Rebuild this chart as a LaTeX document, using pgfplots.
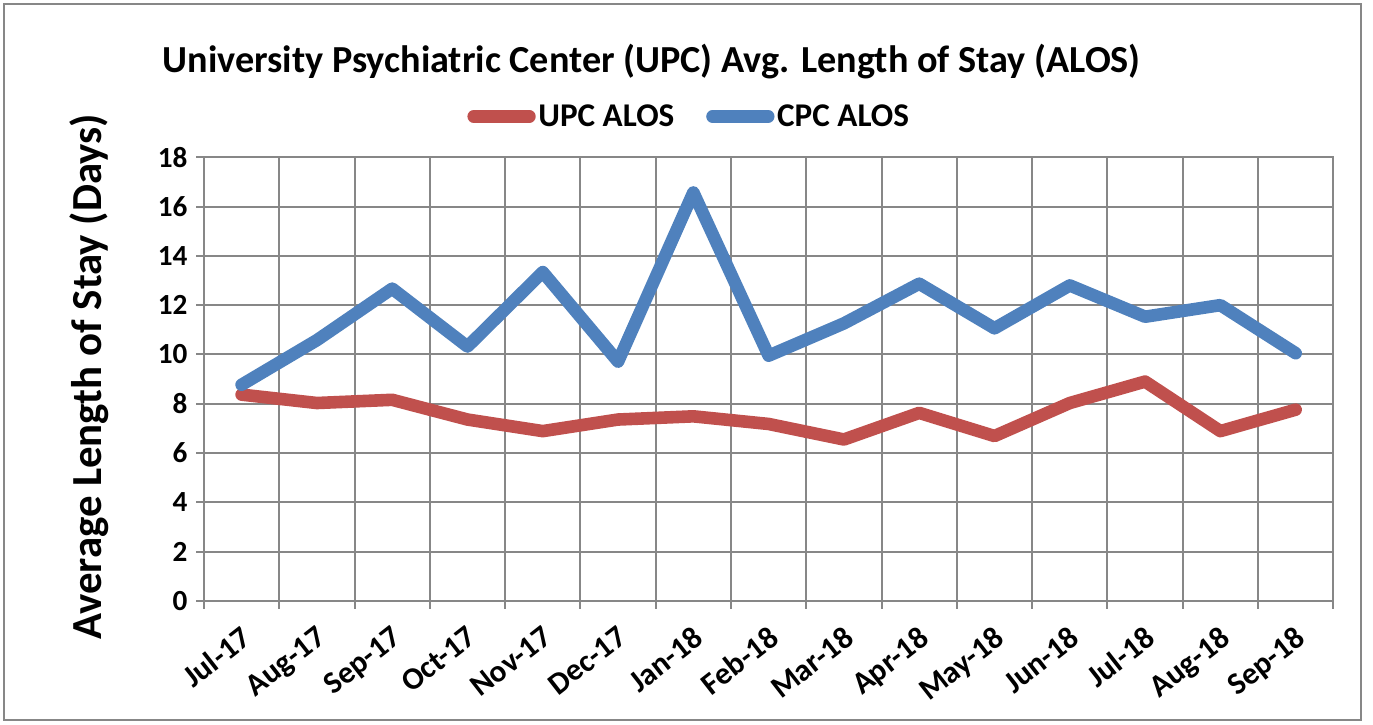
\documentclass[border=0pt]{standalone}
\usepackage{pgfplots}
\pgfplotsset{compat=1.18}
\usepackage{fontspec}
\setmainfont{Carlito}
\definecolor{upcred}{HTML}{C0504D}
\definecolor{cpcblue}{HTML}{4F81BD}
\definecolor{gridgray}{HTML}{878787}
\pgfplotstableread{
x upc cpc
0 8.37 8.77
1 8.03 10.58
2 8.16 12.67
3 7.36 10.32
4 6.89 13.34
5 7.36 9.71
6 7.49 16.57
7 7.18 9.95
8 6.55 11.26
9 7.63 12.87
10 6.69 11.06
11 8.03 12.80
12 8.90 11.53
13 6.89 12.00
14 7.76 10.05
}\datatable
\begin{document}
\begin{tikzpicture}
\path (0,0) rectangle (1029.75pt,-546pt);
\draw[gridgray, line width=1.5pt] (3pt,-3pt) rectangle (1026pt,-543pt);
\node[font=\bfseries\fontsize{28.8}{32}\selectfont] at (491.25pt,-46.5pt) {University Psychiatric Center (UPC) Avg. Length of Stay (ALOS)};
\node[font=\bfseries\fontsize{32.3}{36}\selectfont, rotate=90] at (67.5pt,-284pt) {Average Length of Stay (Days)};
\begin{axis}[
  at={(153.75pt,-453pt)}, anchor=south west,
  scale only axis, width=851.25pt, height=334.5pt,
  xmin=-0.5, xmax=14.5, ymin=0, ymax=18,
  xtick={-0.5,0.5,...,14.5},
  xticklabels={Jul-17,Aug-17,Sep-17,Oct-17,Nov-17,Dec-17,Jan-18,Feb-18,Mar-18,Apr-18,May-18,Jun-18,Jul-18,Aug-18,Sep-18,{}},
  xticklabel style={font=\bfseries\fontsize{23.5}{26}\selectfont, xshift=27.5pt, yshift=-9pt, rotate=38, anchor=north east, inner sep=2pt},
  ytick={0,2,...,18},
  yticklabel style={font=\bfseries\fontsize{22}{26}\selectfont, xshift=-3pt},
  /pgf/number format/assume math mode=true,
  grid=major,
  major grid style={gridgray, line width=1.5pt},
  axis line style={gridgray, line width=1.5pt},
  tick style={gridgray, line width=1.5pt},
  tick align=outside, major tick length=6pt,
  xtick pos=bottom, ytick pos=left,
  legend columns=2,
  legend style={draw=none, fill=none, at={(0.43,1.092)}, anchor=center,
    font=\bfseries\fontsize{25}{28}\selectfont, /tikz/every even column/.append style={column sep=22pt}},
  legend image code/.code={\draw[#1, line cap=round] (0pt,0pt) -- (42pt,0pt);},
]
\addplot[upcred, line width=9.5pt, line join=round, line cap=round] table[x=x, y=upc] {\datatable};
\addlegendentry{UPC ALOS}
\addplot[cpcblue, line width=9.5pt, line join=round, line cap=round] table[x=x, y=cpc] {\datatable};
\addlegendentry{CPC ALOS}
\end{axis}
\end{tikzpicture}
\end{document}
